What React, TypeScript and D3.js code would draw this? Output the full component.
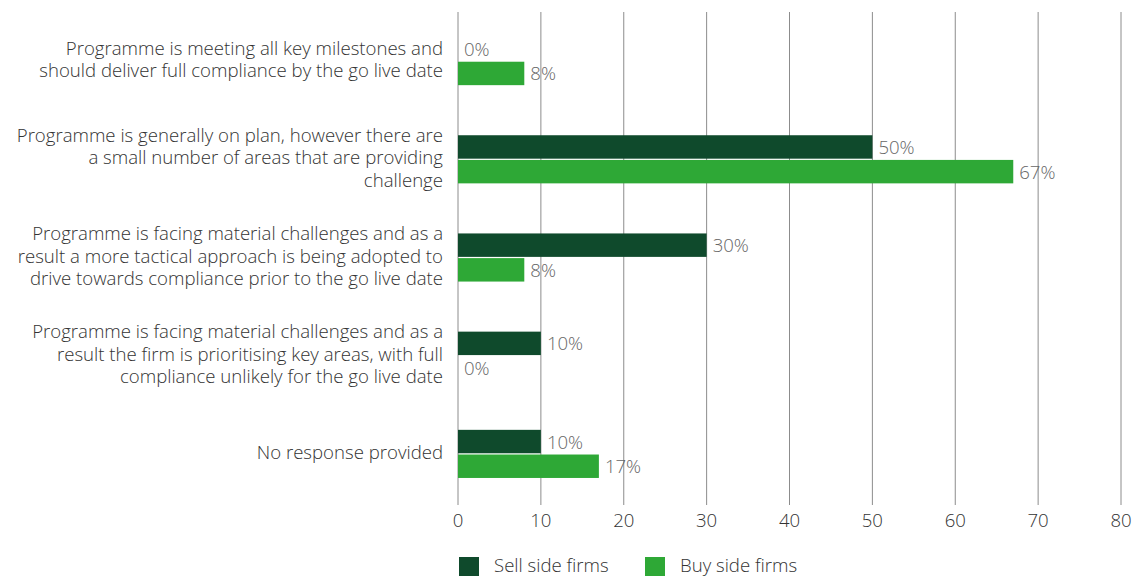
import React, { useRef, useEffect } from "react";
import * as d3 from "d3";

// category labels, already broken into lines as in the source
const categories = [
  ["Programme is meeting all key milestones and", "should deliver full compliance by the go live date"],
  ["Programme is generally on plan, however there are", "a small number of areas that are providing", "challenge"],
  ["Programme is facing material challenges and as a", "result a more tactical approach is being adopted to", "drive towards compliance prior to the go live date"],
  ["Programme is facing material challenges and as a", "result the firm is prioritising key areas, with full", "compliance unlikely for the go live date"],
  ["No response provided"],
];
const sellSide = [0, 50, 30, 10, 10];
const buySide = [8, 67, 8, 0, 17];
const seriesNames = ["Sell side firms", "Buy side firms"];
const xTicks = [0, 10, 20, 30, 40, 50, 60, 70, 80];

const App = () => {
  const ref = useRef<SVGSVGElement>(null);

  useEffect(() => {
    const svg = d3.select(ref.current);
    svg.selectAll("*").remove();

    const width = 1132;
    const height = 576;
    const font = "'Open Sans', sans-serif";
    const fontSize = "18.6px";
    const colors = ["#0f4a2c", "#2ea836"];

    const x = d3.scaleLinear().domain([0, 80]).range([458, 1121]);
    const y = d3
      .scaleBand<number>()
      .domain(d3.range(categories.length))
      .range([12, 503])
      .paddingInner(0.51)
      .paddingOuter(0.255);
    const y1 = d3
      .scaleBand<number>()
      .domain([0, 1])
      .range([0, y.bandwidth()])
      .paddingInner(0.05);

    svg.attr("width", width).attr("height", height).style("font-family", font);

    // vertical grid lines
    svg.append("g")
      .selectAll("line")
      .data(xTicks)
      .enter()
      .append("line")
      .attr("x1", d => x(d))
      .attr("x2", d => x(d))
      .attr("y1", 12)
      .attr("y2", 505)
      .attr("stroke", "#8c8c8c")
      .attr("stroke-width", 1);

    // tick labels
    svg.append("g")
      .selectAll("text")
      .data(xTicks)
      .enter()
      .append("text")
      .attr("x", d => x(d))
      .attr("y", 522)
      .attr("text-anchor", "middle")
      .attr("dominant-baseline", "middle")
      .style("font-size", fontSize)
      .style("font-weight", 300)
      .attr("fill", "#333")
      .text(d => d);

    const series = [sellSide, buySide];
    series.forEach((values, s) => {
      const g = svg.append("g");
      g.selectAll("rect")
        .data(values)
        .enter()
        .append("rect")
        .attr("x", x(0))
        .attr("y", (_, i) => (y(i) as number) + (y1(s) as number))
        .attr("width", d => x(d) - x(0))
        .attr("height", y1.bandwidth())
        .attr("fill", colors[s]);

      g.selectAll("text")
        .data(values)
        .enter()
        .append("text")
        .attr("x", d => x(d) + 6)
        .attr("y", (_, i) => (y(i) as number) + (y1(s) as number) + y1.bandwidth() / 2 + 2)
        .attr("dominant-baseline", "middle")
        .style("font-size", fontSize)
        .style("font-weight", 300)
        .attr("fill", "#666")
        .text(d => `${d}%`);
    });

    // category labels
    const lineHeight = 22.3;
    categories.forEach((lines, i) => {
      const cy = (y(i) as number) + y.bandwidth() / 2;
      const top = cy - ((lines.length - 1) * lineHeight) / 2;
      const t = svg.append("text")
        .attr("text-anchor", "end")
        .attr("dominant-baseline", "middle")
        .style("font-size", fontSize)
        .style("font-weight", 300)
        .attr("fill", "#333");
      lines.forEach((line, j) => {
        t.append("tspan")
          .attr("x", 443)
          .attr("y", top + j * lineHeight)
          .text(line);
      });
    });

    // legend
    const legendX = [459, 645];
    seriesNames.forEach((name, s) => {
      svg.append("rect")
        .attr("x", legendX[s])
        .attr("y", 557)
        .attr("width", 20)
        .attr("height", 20)
        .attr("fill", colors[s]);
      svg.append("text")
        .attr("x", legendX[s] + 35)
        .attr("y", 572)
        .style("font-size", fontSize)
        .style("font-weight", 300)
        .attr("fill", "#333")
        .text(name);
    });
  }, []);

  return <svg ref={ref} style={{ position: "absolute", left: 0, top: 0 }}></svg>;
};

export default App;
